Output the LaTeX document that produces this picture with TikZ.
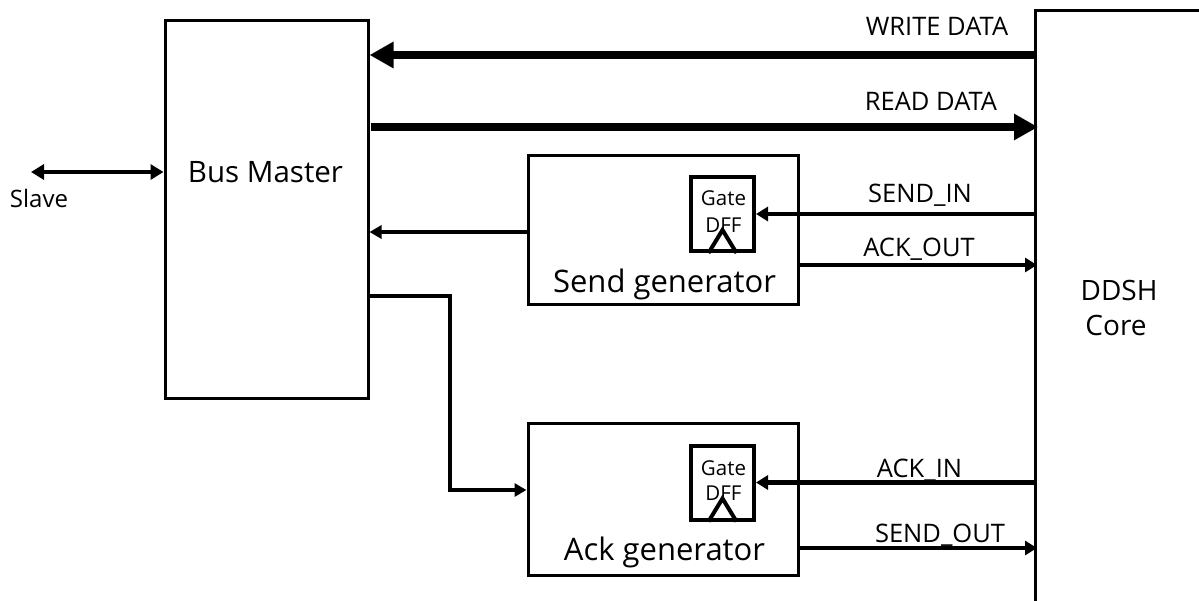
\documentclass[tikz,border=0pt]{standalone}
\usepackage{fontspec}
\setmainfont{Open Sans}
\usetikzlibrary{arrows.meta}
\begin{document}
\begin{tikzpicture}[x=1pt,y=-1pt,
  blk/.style={draw,line width=3pt,minimum width=#1,inner sep=0pt},
  ff/.style={draw,line width=4pt,minimum width=63pt,minimum height=74pt,inner sep=0pt},
  clk/.style={line width=4pt,line join=miter},
  bigarrow/.style={line width=8pt,-{Triangle[length=24pt,width=25pt]}},
  sigarrow/.style={line width=4.5pt,-{Triangle[length=12pt,width=14pt]}},
  midarrow/.style={line width=4pt,-{Triangle[length=12pt,width=13pt]}},
  lbl/.style={font=\fontsize{25.5}{30}\selectfont,inner sep=0pt,anchor=base},
  ffl/.style={font=\fontsize{20.5}{24}\selectfont,inner sep=0pt,anchor=base},
  big/.style={font=\fontsize{31}{36}\selectfont,inner sep=0pt,anchor=base},
]
\clip (0,0) rectangle (1199,600);
\fill[white] (0,0) rectangle (1199,600);

% main blocks
\node[blk=203pt,minimum height=378pt] (bm) at (266.5,209) {};
\node[font=\fontsize{29.5}{34}\selectfont,inner sep=0pt,anchor=base] (bmt) at (265.5,182) {Bus Master};
\node[blk=270pt,minimum height=149pt] (send) at (663,229.5) {};
\node[big] (sendt) at (664.5,292) {Send generator};
\node[blk=270pt,minimum height=152pt] (ack) at (663,499) {};
\node[big] (ackt) at (664.5,560) {Ack generator};
\node[blk=240pt,minimum height=660pt] (core) at (1155.5,340) {};
\node[font=\fontsize{28}{34}\selectfont,inner sep=0pt,anchor=base] (coret) at (1119,300) {DDSH};
\node[font=\fontsize{28}{34}\selectfont,inner sep=0pt,anchor=base] (corec) at (1116,335) {Core};

% gated flip-flops with clock triangle
\node[ff] (g1) at (722.5,214) {};
\node[ffl] (g1a) at (723.5,205) {Gate};
\node[ffl] (g1b) at (723.5,232) {DFF};
\draw[clk] (g1.south) ++(-14,0) -- ++(14,-23) -- ++(14,23);
\node[ff] (g2) at (722.5,482.5) {};
\node[ffl] (g2a) at (723.5,475) {Gate};
\node[ffl] (g2b) at (723.5,500) {DFF};
\draw[clk] (g2.south) ++(-14,0) -- ++(14,-23) -- ++(14,23);

% signal levels
\coordinate (yWD) at (0,55);
\coordinate (yRD) at (0,127);
\coordinate (yAO) at (0,265);
\coordinate (ySO) at (0,548);
\coordinate (yFB) at (0,232);
\coordinate (yCT) at (0,296);
\coordinate (yAK) at (0,490);
\coordinate (ySL) at (0,172);
\coordinate (slave) at (31,172);
\coordinate (bend) at (450,296);

% data buses
\draw[bigarrow] (core.west |- yWD) -- (bm.east |- yWD);
\draw[bigarrow] ([xshift=1pt]bm.east |- yRD) -- ([xshift=4pt]core.west |- yRD);
\node[lbl] (wd) at (937,35) {WRITE DATA};
\node[lbl] (rd) at (931,110) {READ DATA};

% handshake signals
\draw[sigarrow] (core.west |- g1.east) -- (g1.east);
\draw[sigarrow] (send.east |- yAO) -- ([xshift=3pt]core.west |- yAO);
\draw[sigarrow] (core.west |- g2.east) -- (g2.east);
\draw[sigarrow] (ack.east |- ySO) -- ([xshift=3pt]core.west |- ySO);
\node[lbl] (si) at (920,202) {SEND\_IN};
\node[lbl] (ao) at (919,256) {ACK\_OUT};
\node[lbl] (ai) at (919.5,477) {ACK\_IN};
\node[lbl] (so) at (940,542) {SEND\_OUT};

% bus master side
\draw[midarrow] (send.west |- yFB) -- (bm.east |- yFB);
\draw[midarrow,line join=miter] (bm.east |- yCT) -- (bend) |- (ack.west |- yAK);
\draw[line width=4pt,{Triangle[length=13pt,width=15pt]}-{Triangle[length=13pt,width=15pt]}] (slave) -- (bm.west |- ySL);
\node[font=\fontsize{24}{28}\selectfont,inner sep=0pt,anchor=base] (sl) at (39,207) {Slave};
\end{tikzpicture}
\end{document}
